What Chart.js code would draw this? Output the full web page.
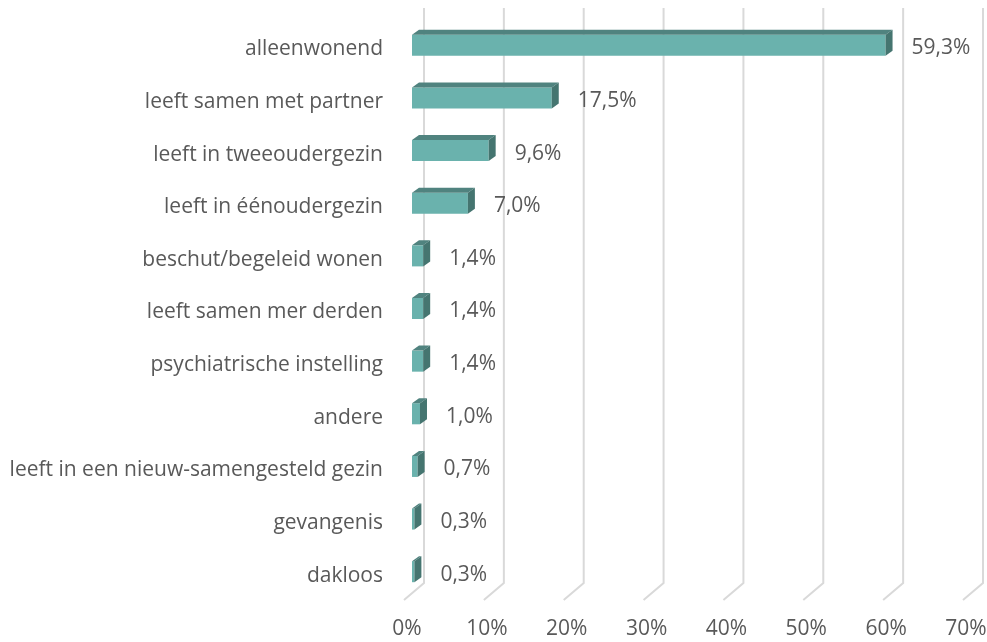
<!DOCTYPE html>
<html>
<head>
<meta charset="utf-8">
<script src="https://cdn.jsdelivr.net/npm/chart.js@4/dist/chart.umd.min.js"></script>
<style>
  body { margin: 0; background: #fff; }
  #wrap { width: 987px; height: 642px; }
</style>
</head>
<body>
<div id="wrap"><canvas id="woonsituatie"></canvas></div>
<script>
// categories + values (percent)
const labels = [
  "alleenwonend",
  "leeft samen met partner",
  "leeft in tweeoudergezin",
  "leeft in éénoudergezin",
  "beschut/begeleid wonen",
  "leeft samen mer derden",
  "psychiatrische instelling",
  "andere",
  "leeft in een nieuw-samengesteld gezin",
  "gevangenis",
  "dakloos"
];
const values = [59.3, 17.5, 9.6, 7.0, 1.4, 1.4, 1.4, 1.0, 0.7, 0.3, 0.3];
const axisTicks = [0, 10, 20, 30, 40, 50, 60, 70];

const FRONT = "#6ab2ad";
const TOP = "#50837f";
const SIDE = "#457570";
const TEXT = "#595959";
const FONT = "'Open Sans', sans-serif";
const FSIZE = 21;
const DX = 7, DY = 5;

// gridlines drawn like excel's 3d back wall + floor
const gridWall = {
  id: "gridWall",
  beforeDatasetsDraw(chart) {
    const ctx = chart.ctx, xs = chart.scales.x;
    ctx.save();
    ctx.strokeStyle = "#d9d9d9";
    ctx.lineWidth = 2;
    axisTicks.forEach(v => {
      const px = xs.getPixelForValue(v);
      ctx.beginPath();
      ctx.moveTo(px + 12, 8);
      ctx.lineTo(px + 12, 583);
      ctx.lineTo(px - 8, 600);
      ctx.stroke();
    });
    ctx.restore();
  }
};

// top + side faces and the value labels
const bars3d = {
  id: "bars3d",
  afterDatasetsDraw(chart) {
    const ctx = chart.ctx;
    const meta = chart.getDatasetMeta(0);
    ctx.save();
    meta.data.forEach((bar, i) => {
      const l = bar.base, r = bar.x;
      const t = bar.y - bar.height / 2, b = bar.y + bar.height / 2;
      ctx.fillStyle = TOP;
      ctx.beginPath();
      ctx.moveTo(l, t);
      ctx.lineTo(l + DX, t - DY);
      ctx.lineTo(r + DX, t - DY);
      ctx.lineTo(r, t);
      ctx.closePath();
      ctx.fill();
      ctx.fillStyle = SIDE;
      ctx.beginPath();
      ctx.moveTo(r, t);
      ctx.lineTo(r + DX, t - DY);
      ctx.lineTo(r + DX, b - DY);
      ctx.lineTo(r, b);
      ctx.closePath();
      ctx.fill();

      ctx.fillStyle = TEXT;
      ctx.font = FSIZE + "px " + FONT;
      ctx.textAlign = "left";
      ctx.textBaseline = "middle";
      ctx.fillText(values[i].toFixed(1).replace(".", ",") + "%", r + 26, bar.y + 3);
    });
    ctx.restore();
  }
};

new Chart(document.getElementById("woonsituatie"), {
  type: "bar",
  data: {
    labels: labels,
    datasets: [{
      data: values,
      backgroundColor: FRONT,
      borderWidth: 0,
      categoryPercentage: 1,
      barPercentage: 0.4
    }]
  },
  options: {
    indexAxis: "y",
    responsive: true,
    maintainAspectRatio: false,
    animation: false,
    devicePixelRatio: 1,
    layout: { padding: { top: 19, right: 16, left: 0, bottom: 0 } },
    plugins: { legend: { display: false }, tooltip: { enabled: false } },
    scales: {
      x: {
        min: 0, max: 70,
        afterBuildTicks: s => { s.ticks = axisTicks.map(v => ({ value: v })); },
        afterFit: s => { s.height = 44; s.paddingLeft = 0; s.paddingRight = 0; },
        grid: { display: false, drawTicks: false },
        border: { display: false },
        ticks: {
          padding: 18,
          labelOffset: -5,
          maxRotation: 0,
          color: TEXT,
          font: { family: FONT, size: FSIZE },
          callback: v => v + "%"
        }
      },
      y: {
        afterFit: s => { s.width = 412; s.paddingTop = 0; s.paddingBottom = 0; },
        grid: { display: false, drawTicks: false },
        border: { display: false },
        ticks: {
          padding: 29,
          labelOffset: 4,
          color: TEXT,
          font: { family: FONT, size: FSIZE }
        }
      }
    }
  },
  plugins: [gridWall, bars3d]
});
</script>
</body>
</html>
